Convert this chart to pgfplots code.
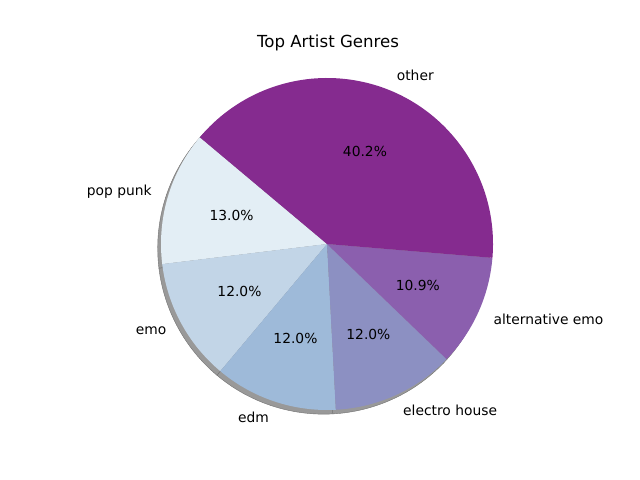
\documentclass[border=0pt]{standalone}
\usepackage{fontspec}
\setmainfont{DejaVu Sans}
\usepackage{pgfplots}
\usepackage{pgfplotstable}
\usetikzlibrary{calc}
\pgfplotsset{compat=1.18}

% BuPu-like colours
\definecolor{cA}{HTML}{E3EEF5}
\definecolor{cB}{HTML}{C2D5E7}
\definecolor{cC}{HTML}{9EBAD9}
\definecolor{cD}{HTML}{8C90C2}
\definecolor{cE}{HTML}{8B5FAE}
\definecolor{cF}{HTML}{852B8F}

\tikzset{lab/.style={font=\fontsize{10}{12}\selectfont, inner sep=0pt}}

% counts per genre (counter-clockwise from 140 deg)
\pgfplotstableread[col sep=comma]{
genre,count,color
pop punk,12,cA
emo,11,cB
edm,11,cC
electro house,11,cD
alternative emo,10,cE
other,37,cF
}\genres

\begin{document}
\begin{tikzpicture}
\begin{axis}[
    scale only axis, width=6.4in, height=4.8in,
    xmin=0, xmax=640, ymin=0, ymax=480,
    hide axis, clip=false,
]
\path (axis cs:0,0) (axis cs:640,480);
\node[font=\fontsize{12}{14}\selectfont, inner sep=0pt] at (axis cs:328,437) {Top Artist Genres};
\pgfplotstablegetrowsof{\genres}
\pgfmathtruncatemacro\nrows{\pgfplotsretval-1}
\def\total{0}
\pgfplotsforeachungrouped \i in {0,...,\nrows}{%
  \pgfplotstablegetelem{\i}{count}\of\genres
  \pgfmathsetmacro\total{\total+\pgfplotsretval}%
}
% shadow
\def\start{140}
\pgfplotsforeachungrouped \i in {0,...,\nrows}{%
  \pgfplotstablegetelem{\i}{count}\of\genres
  \pgfmathsetmacro\a{\start}%
  \pgfmathsetmacro\b{\start+360*\pgfplotsretval/\total}%
  \edef\cmd{\noexpand\fill[black!40, draw=black!55, line width=0.3pt] (axis cs:323.7,231.85) -- ++(\a:1.66in) arc[start angle=\a, end angle=\b, radius=1.66in] -- cycle;}%
  \cmd
  \let\start\b
}
% wedges
\def\start{140}
\pgfplotsforeachungrouped \i in {0,...,\nrows}{%
  \pgfplotstablegetelem{\i}{count}\of\genres
  \pgfmathsetmacro\a{\start}%
  \pgfmathsetmacro\b{\start+360*\pgfplotsretval/\total}%
  \pgfplotstablegetelem{\i}{color}\of\genres
  \edef\col{\pgfplotsretval}%
  \edef\cmd{\noexpand\fill[\col] (axis cs:327,236) -- ++(\a:1.66in) arc[start angle=\a, end angle=\b, radius=1.66in] -- cycle;}%
  \cmd
  \let\start\b
}
% labels
\def\start{140}
\pgfplotsforeachungrouped \i in {0,...,\nrows}{%
  \pgfplotstablegetelem{\i}{count}\of\genres
  \pgfmathsetmacro\p{100*\pgfplotsretval/\total}%
  \pgfmathsetmacro\b{\start+360*\pgfplotsretval/\total}%
  \pgfmathsetmacro\m{(\start+\b)/2}%
  \pgfmathsetmacro\cx{cos(\m)}%
  \ifdim\cx pt<0pt \def\anc{east}\else\def\anc{west}\fi
  \pgfplotstablegetelem{\i}{genre}\of\genres
  \edef\lab{\pgfplotsretval}%
  \edef\cmd{%
    \noexpand\node[lab, anchor=\anc] at ($(axis cs:327,236)+(\m:1.826in)$) {\lab};
    \noexpand\node[lab] at ($(axis cs:327,236)+(\m:0.996in)$) {\noexpand\pgfmathprintnumber[fixed,fixed zerofill,precision=1,assume math mode=true]{\p}\noexpand\%};
  }%
  \cmd
  \let\start\b
}
\end{axis}
\end{tikzpicture}
\end{document}
